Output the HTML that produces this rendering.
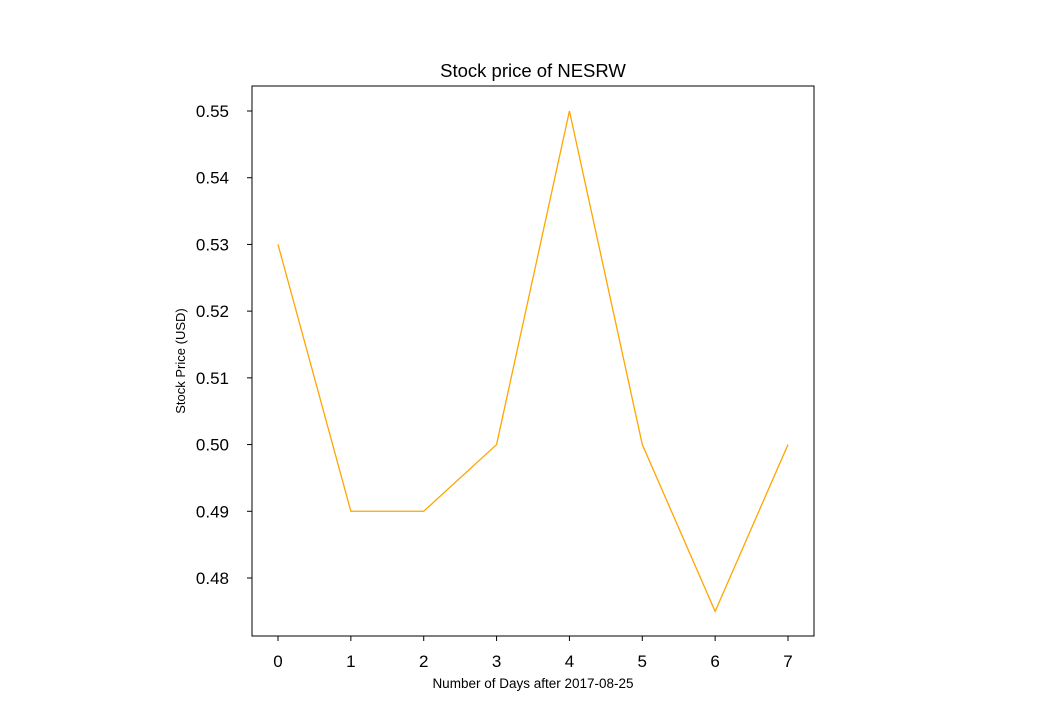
<!DOCTYPE html>
<html><head><meta charset="utf-8"><style>
body{margin:0;background:#fff;}
svg{display:block;font-family:"Liberation Sans",sans-serif;}
</style></head><body>
<svg id="chart" width="1040" height="715">
<rect x="0" y="0" width="1040" height="715" fill="#fff"/>
<text x="533" y="77" font-size="18.5" text-anchor="middle">Stock price of NESRW</text>
<rect x="252" y="86" width="562" height="550" fill="none" stroke="#000" stroke-width="1"/>
<g id="xticks"></g>
<g id="yticks"></g>
<path id="line" fill="none" stroke="#ffa500" stroke-width="1.3"/>
<text x="533" y="688" font-size="13.5" text-anchor="middle">Number of Days after 2017-08-25</text>
<text x="0" y="0" font-size="13" text-anchor="middle" transform="translate(185,361) rotate(-90)">Stock Price (USD)</text>
</svg>
<script>
const days=[0,1,2,3,4,5,6,7];
const prices=[0.53,0.49,0.49,0.50,0.55,0.50,0.475,0.50];
const yTickVals=[0.48,0.49,0.50,0.51,0.52,0.53,0.54,0.55];
const yTickLabels=["0.48","0.49","0.50","0.51","0.52","0.53","0.54","0.55"];
const xTickVals=[0,1,2,3,4,5,6,7];
const NS="http://www.w3.org/2000/svg";
function xs(v){return 278+(v-0)*(788-278)/7;}
function ys(v){return 111+(0.55-v)*(578-111)/0.07;}
const xg=document.getElementById('xticks'),yg=document.getElementById('yticks');
xTickVals.forEach(v=>{
 const l=document.createElementNS(NS,'line');
 l.setAttribute('x1',xs(v));l.setAttribute('x2',xs(v));l.setAttribute('y1',636);l.setAttribute('y2',641);l.setAttribute('stroke','#000');
 
 
 xg.appendChild(l);
 const t=document.createElementNS(NS,'text');
 t.setAttribute('x',xs(v));t.setAttribute('y',667);t.setAttribute('font-size','17');t.setAttribute('text-anchor','middle');t.textContent=v;
 
 
 xg.appendChild(t);
});
yTickVals.forEach((v,i)=>{
 const l=document.createElementNS(NS,'line');
 l.setAttribute('x1',247);l.setAttribute('x2',252);l.setAttribute('y1',ys(v));l.setAttribute('y2',ys(v));l.setAttribute('stroke','#000');
 
 
 yg.appendChild(l);
 const t=document.createElementNS(NS,'text');
 t.setAttribute('x',229);t.setAttribute('y',ys(v)+6);t.setAttribute('font-size','17');t.setAttribute('text-anchor','end');t.textContent=yTickLabels[i];
 
 
 yg.appendChild(t);
});
document.getElementById('line').setAttribute('d',days.map((d,i)=>(i?'L':'M')+xs(d)+','+ys(prices[i])).join(' '));
</script>
</body></html>
